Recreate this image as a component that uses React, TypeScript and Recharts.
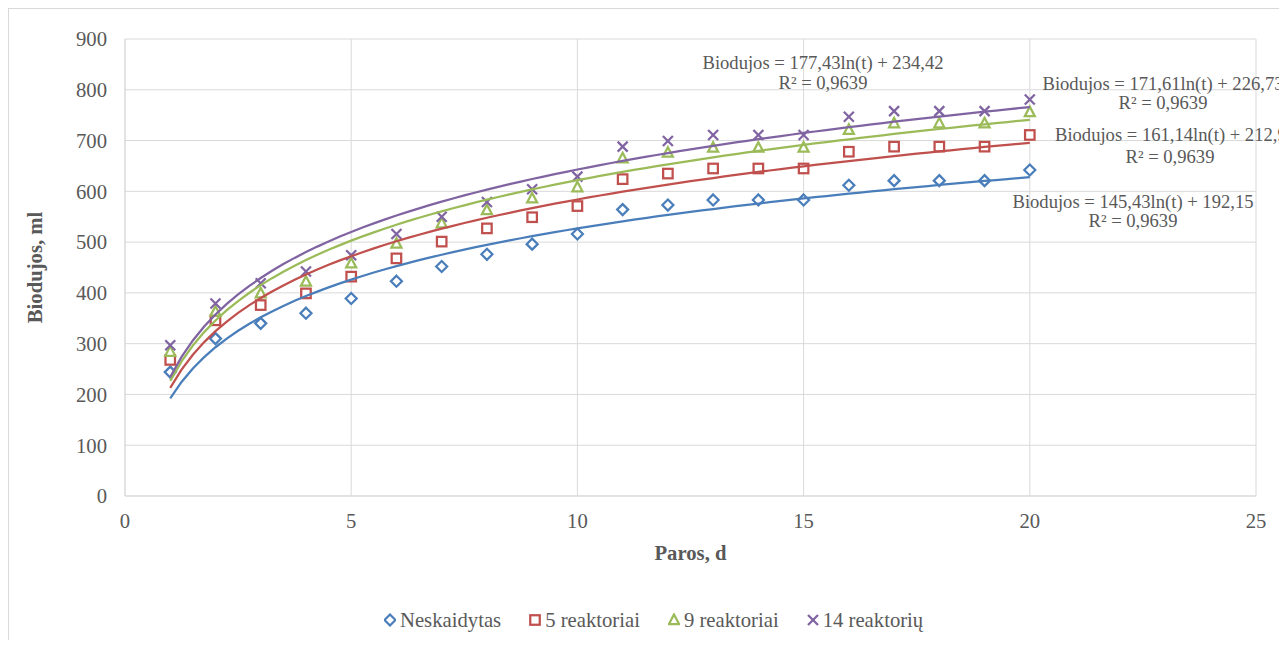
import { ScatterChart, Scatter, XAxis, YAxis, CartesianGrid } from 'recharts'

// Paros (days)
const days = [1, 2, 3, 4, 5, 6, 7, 8, 9, 10, 11, 12, 13, 14, 15, 16, 17, 18, 19, 20]

// Biodujos, ml
const neskaidytas = [244, 310, 340, 360, 389, 423, 452, 476, 496, 516, 564, 573, 583, 583, 583, 612, 621, 621, 621, 642]
const reaktoriai5 = [268, 346, 376, 399, 432, 468, 501, 527, 549, 571, 624, 635, 645, 645, 645, 678, 688, 688, 688, 711]
const reaktoriai9 = [284, 363, 399, 422, 458, 497, 537, 563, 586, 608, 665, 676, 686, 686, 686, 721, 734, 734, 734, 756]
const reaktoriu14 = [297, 379, 419, 442, 474, 516, 550, 579, 604, 629, 688, 699, 711, 711, 711, 747, 758, 758, 758, 781]

const seriesNames = ['Neskaidytas', '5 reaktoriai', '9 reaktoriai', '14 reaktorių']

// logarithmic trendlines as printed on the chart: y = a*ln(t) + b
const trendA = [145.43, 161.14, 171.61, 177.43]
const trendB = [192.15, 212.9, 226.73, 234.42]
const trendLabels = [
  'Biodujos = 145,43ln(t) + 192,15',
  'Biodujos = 161,14ln(t) + 212,9',
  'Biodujos = 171,61ln(t) + 226,73',
  'Biodujos = 177,43ln(t) + 234,42',
]
const r2Label = 'R² = 0,9639'

const xTicks = [0, 5, 10, 15, 20, 25]
const yTicks = [0, 100, 200, 300, 400, 500, 600, 700, 800, 900]

const COLORS = ['#4a7ebb', '#c0504d', '#9bbb59', '#8064a2']
const SERIF = '"Liberation Serif", "Times New Roman", serif'
const TEXT = '#595959'
const GRID = '#d9d9d9'

const W = 1278
const H = 631

const values = [neskaidytas, reaktoriai5, reaktoriai9, reaktoriu14]
const pointData = values.map((vals) => days.map((d, i) => ({ x: d, y: vals[i] })))

const trendT: number[] = []
for (let t = 1; t <= 20.0001; t += 0.25) trendT.push(t)
const trendData = trendA.map((a, k) => trendT.map((t) => ({ x: t, y: a * Math.log(t) + trendB[k] })))

function Marker({ kind, cx, cy, color }: { kind: number; cx: number; cy: number; color: string }) {
  const sw = 2.25
  if (kind === 0) {
    const s = 5.5
    return (
      <polygon
        points={`${cx},${cy - s} ${cx + s},${cy} ${cx},${cy + s} ${cx - s},${cy}`}
        fill="#fff"
        stroke={color}
        strokeWidth={sw}
      />
    )
  }
  if (kind === 1) {
    const s = 4.75
    return <rect x={cx - s} y={cy - s} width={s * 2} height={s * 2} fill="#fff" stroke={color} strokeWidth={sw} />
  }
  if (kind === 2) {
    return (
      <polygon
        points={`${cx},${cy - 5.5} ${cx + 5},${cy + 4} ${cx - 5},${cy + 4}`}
        fill="#fff"
        stroke={color}
        strokeWidth={sw}
        strokeLinejoin="miter"
      />
    )
  }
  const s = 5
  return (
    <g stroke={color} strokeWidth={sw}>
      <line x1={cx - s} y1={cy - s} x2={cx + s} y2={cy + s} />
      <line x1={cx - s} y1={cy + s} x2={cx + s} y2={cy - s} />
    </g>
  )
}

function YTitle({ viewBox }: any) {
  const vb = viewBox ?? { x: 56, y: 30, width: 60, height: 457 }
  const cx = vb.x - 30
  const cy = vb.y + vb.height / 2
  return (
    <text
      x={cx}
      y={cy}
      transform={`rotate(-90 ${cx} ${cy})`}
      textAnchor="middle"
      dominantBaseline="central"
      fontFamily={SERIF}
      fontSize={20.7}
      fontWeight="bold"
      fill={TEXT}
    >
      Biodujos, ml
    </text>
  )
}

function XTitle({ viewBox }: any) {
  const vb = viewBox ?? { x: 116, y: 487, width: 1131, height: 30 }
  return (
    <text
      x={vb.x + vb.width / 2}
      y={vb.y + 57}
      textAnchor="middle"
      dominantBaseline="central"
      fontFamily={SERIF}
      fontSize={20.7}
      fontWeight="bold"
      fill={TEXT}
    >
      Paros, d
    </text>
  )
}

// where the trendline labels sit (px inside the chart box)
const labelLines = [
  { text: trendLabels[3], x: 814, y: 54, anchor: 'middle' },
  { text: r2Label, x: 814, y: 74, anchor: 'middle' },
  { text: trendLabels[2], x: 1154, y: 74.5, anchor: 'middle' },
  { text: r2Label, x: 1154, y: 94, anchor: 'middle' },
  { text: trendLabels[1], x: 1046, y: 125.5, anchor: 'start' },
  { text: r2Label, x: 1161, y: 147.5, anchor: 'middle' },
  { text: trendLabels[0], x: 1124, y: 193, anchor: 'middle' },
  { text: r2Label, x: 1124, y: 211.5, anchor: 'middle' },
]

export default function App() {
  return (
    <div
      style={{
        position: 'relative',
        width: W,
        height: H,
        borderTop: `1px solid ${GRID}`,
        borderLeft: `1px solid ${GRID}`,
        overflow: 'hidden',
        background: '#fff',
        fontFamily: SERIF,
      }}
    >
      <ScatterChart width={W} height={H} margin={{ top: 30, right: 31, bottom: 114, left: 56 }}>
        <CartesianGrid stroke={GRID} strokeWidth={1} />
        <XAxis
          type="number"
          dataKey="x"
          domain={[0, 25]}
          ticks={xTicks}
          interval={0}
          height={30}
          tickSize={0}
          tickMargin={17}
          tickLine={false}
          axisLine={{ stroke: GRID }}
          tick={{ fontSize: 20.7, fill: TEXT, fontFamily: SERIF }}
          label={<XTitle />}
        />
        <YAxis
          type="number"
          dataKey="y"
          domain={[0, 900]}
          ticks={yTicks}
          interval={0}
          width={60}
          tickSize={0}
          tickMargin={18}
          tickLine={false}
          axisLine={{ stroke: GRID }}
          tick={{ fontSize: 20.7, fill: TEXT, fontFamily: SERIF }}
          label={<YTitle />}
        />
        {pointData.map((data, k) => (
          <Scatter
            key={seriesNames[k]}
            name={seriesNames[k]}
            data={data}
            isAnimationActive={false}
            shape={(p: any) => <Marker kind={k} cx={p.cx} cy={p.cy} color={COLORS[k]} />}
          />
        ))}
        {trendData.map((data, k) => (
          <Scatter
            key={'trend' + k}
            data={data}
            isAnimationActive={false}
            line={{ stroke: COLORS[k], strokeWidth: 2.25 }}
            shape={() => <g />}
          />
        ))}
      </ScatterChart>

      {labelLines.map((l, i) => (
        <div
          key={i}
          style={{
            position: 'absolute',
            left: l.x,
            top: l.y,
            transform: l.anchor === 'middle' ? 'translate(-50%, -50%)' : 'translate(0, -50%)',
            whiteSpace: 'nowrap',
            fontSize: 18.6,
            lineHeight: 1,
            color: TEXT,
          }}
        >
          {l.text}
        </div>
      ))}

      <div
        style={{
          position: 'absolute',
          left: 375,
          top: 600,
          height: 22,
          display: 'flex',
          alignItems: 'center',
          gap: 28,
          fontSize: 20.7,
          color: TEXT,
          whiteSpace: 'nowrap',
        }}
      >
        {seriesNames.map((name, k) => (
          <div key={name} style={{ display: 'flex', alignItems: 'center' }}>
            <svg width={12} height={14}>
              <Marker kind={k} cx={6} cy={7} color={COLORS[k]} />
            </svg>
            <span style={{ marginLeft: 4, lineHeight: 1 }}>{name}</span>
          </div>
        ))}
      </div>
    </div>
  )
}
